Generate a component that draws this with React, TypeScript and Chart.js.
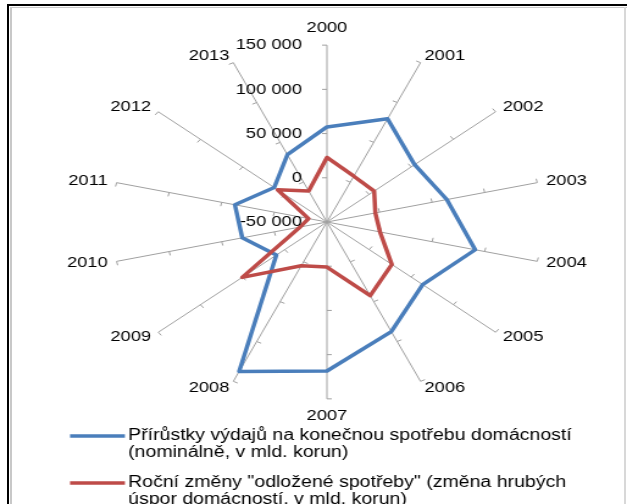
import React, { useEffect, useRef } from 'react';
import { Chart, registerables } from 'chart.js';

Chart.register(...registerables);

// ---- data ----
const years = ['2000', '2001', '2002', '2003', '2004', '2005', '2006', '2007', '2008', '2009', '2010', '2011', '2012', '2013'];
const spendingGrowth = [57500, 79500, 54000, 64000, 91000, 63500, 87500, 118500, 137500, 10000, 30500, 37500, 12500, 34500];
const deferredConsumption = [23000, 7500, 6000, -4000, 500, 27000, 42500, 1000, 5000, 50500, -24500, -32500, 8500, -11000];
const axisMin = -50000;
const axisMax = 150000;
const axisStep = 50000;
const spendingLegend = ['Přírůstky výdajů na konečnou spotřebu domácností', '(nominálně, v mld. korun)'];
const deferredLegend = ['Roční změny "odložené spotřeby" (změna hrubých', 'úspor domácností, v mld. korun)'];

// ---- styling ----
const FONT = '"Liberation Sans", Arial, sans-serif';
const BLUE = '#4a7ebb';
const RED = '#be4b48';
const GRAY = '#a0a0a0';
const DRAW_W = 514; // drawn width, stretched horizontally to 627
const DRAW_H = 504;

const fmt = (v: number) => {
  const s = Math.abs(v).toString().replace(/\B(?=(\d{3})+(?!\d))/g, ' ');
  return (v < 0 ? '-' : '') + s;
};

const axisDecor = {
  id: 'axisDecor',
  beforeDatasetsDraw(chart: any) {
    const r = chart.scales.r;
    const ctx = chart.ctx;
    const n = chart.data.labels.length;
    ctx.save();
    ctx.strokeStyle = GRAY;
    ctx.lineWidth = 1;
    for (let i = 0; i < n; i++) {
      const outer = r.getPointPosition(i, r.drawingArea);
      const dx = (outer.x - r.xCenter) / r.drawingArea;
      const dy = (outer.y - r.yCenter) / r.drawingArea;
      r.ticks.forEach((t: any, k: number) => {
        if (k === 0) return;
        const d = r.getDistanceFromCenterForValue(t.value);
        const p = r.getPointPosition(i, d);
        ctx.beginPath();
        ctx.moveTo(p.x, p.y);
        ctx.lineTo(p.x + dy * 4, p.y - dx * 4);
        ctx.stroke();
      });
    }
    ctx.restore();
  },
  afterDatasetsDraw(chart: any) {
    const r = chart.scales.r;
    const ctx = chart.ctx;
    ctx.save();
    ctx.font = `15px ${FONT}`;
    ctx.fillStyle = '#000';
    ctx.textAlign = 'right';
    ctx.textBaseline = 'middle';
    r.ticks.forEach((t: any) => {
      const y = r.yCenter - r.getDistanceFromCenterForValue(t.value);
      ctx.fillText(fmt(t.value), r.xCenter - 20.5, y);
    });
    ctx.restore();
  },
};

const excelLegend = {
  id: 'excelLegend',
  afterDraw(chart: any, _args: any, opts: any) {
    const ctx = chart.ctx;
    ctx.save();
    ctx.font = `16px ${FONT}`;
    ctx.textAlign = 'left';
    ctx.textBaseline = 'middle';
    chart.data.datasets.forEach((ds: any, i: number) => {
      const y = opts.rows[i];
      ctx.strokeStyle = ds.borderColor;
      ctx.lineWidth = 3.5;
      ctx.beginPath();
      ctx.moveTo(opts.lineX, y);
      ctx.lineTo(opts.lineX + opts.lineLen, y);
      ctx.stroke();
      ctx.fillStyle = '#000';
      (opts.lines[i] as string[]).forEach((line, j) => {
        ctx.fillText(line, opts.textX, y + j * opts.lineGap);
      });
    });
    ctx.restore();
  },
};

export default function App() {
  const ref = useRef<HTMLCanvasElement>(null);

  useEffect(() => {
    if (!ref.current) return;
    const chart = new Chart(ref.current, {
      type: 'radar',
      data: {
        labels: years,
        datasets: [
          {
            label: spendingLegend.join(' '),
            data: spendingGrowth,
            borderColor: BLUE,
            backgroundColor: BLUE,
            borderWidth: 3.5,
            fill: false,
            pointRadius: 0,
            borderJoinStyle: 'round',
            order: 1,
          },
          {
            label: deferredLegend.join(' '),
            data: deferredConsumption,
            borderColor: RED,
            backgroundColor: RED,
            borderWidth: 3.5,
            fill: false,
            pointRadius: 0,
            borderJoinStyle: 'round',
            order: 0,
          },
        ],
      },
      options: {
        animation: false,
        responsive: false,
        maintainAspectRatio: false,
        devicePixelRatio: 1,
        layout: { padding: { top: 28, bottom: 88, left: 22, right: 0 } },
        plugins: {
          legend: { display: false },
          tooltip: { enabled: false },
          excelLegend: {
            lineX: 57.4,
            lineLen: 45,
            textX: 105,
            rows: [436, 483],
            lineGap: 17,
            lines: [spendingLegend, deferredLegend],
          },
        } as any,
        elements: { line: { tension: 0 }, point: { radius: 0 } },
        scales: {
          r: {
            min: axisMin,
            max: axisMax,
            ticks: { stepSize: axisStep, display: false },
            grid: { display: false },
            angleLines: { display: true, color: GRAY, lineWidth: 1 },
            pointLabels: {
              display: true,
              color: '#000',
              font: { family: FONT, size: 15, lineHeight: 0.01 },
              padding: (c: any) => (c.index === 0 || c.index === 7 ? 17 : 7.5),
            },
          },
        },
      } as any,
      plugins: [axisDecor, excelLegend],
    });
    return () => chart.destroy();
  }, []);

  return (
    <div style={{ position: 'absolute', left: 0, top: 0, width: 627, height: 504, overflow: 'hidden', background: '#fff' }}>
      <canvas
        ref={ref}
        width={DRAW_W}
        height={DRAW_H}
        style={{ position: 'absolute', left: 0, top: 0, width: '627px', height: '504px', display: 'block' }}
      />
      <div style={{ position: 'absolute', left: 7, top: 4, width: 640, height: 2, background: '#000' }} />
      <div style={{ position: 'absolute', left: 7, top: 4, width: 2, height: 520, background: '#000' }} />
      <div style={{ position: 'absolute', left: 10, top: 7, width: 630, height: 1, background: '#c8c8c8' }} />
      <div style={{ position: 'absolute', left: 10, top: 7, width: 2, height: 520, background: '#c8c8c8' }} />
      <div style={{ position: 'absolute', left: 624, top: 7, width: 2, height: 520, background: '#d8d8d8' }} />
    </div>
  );
}
